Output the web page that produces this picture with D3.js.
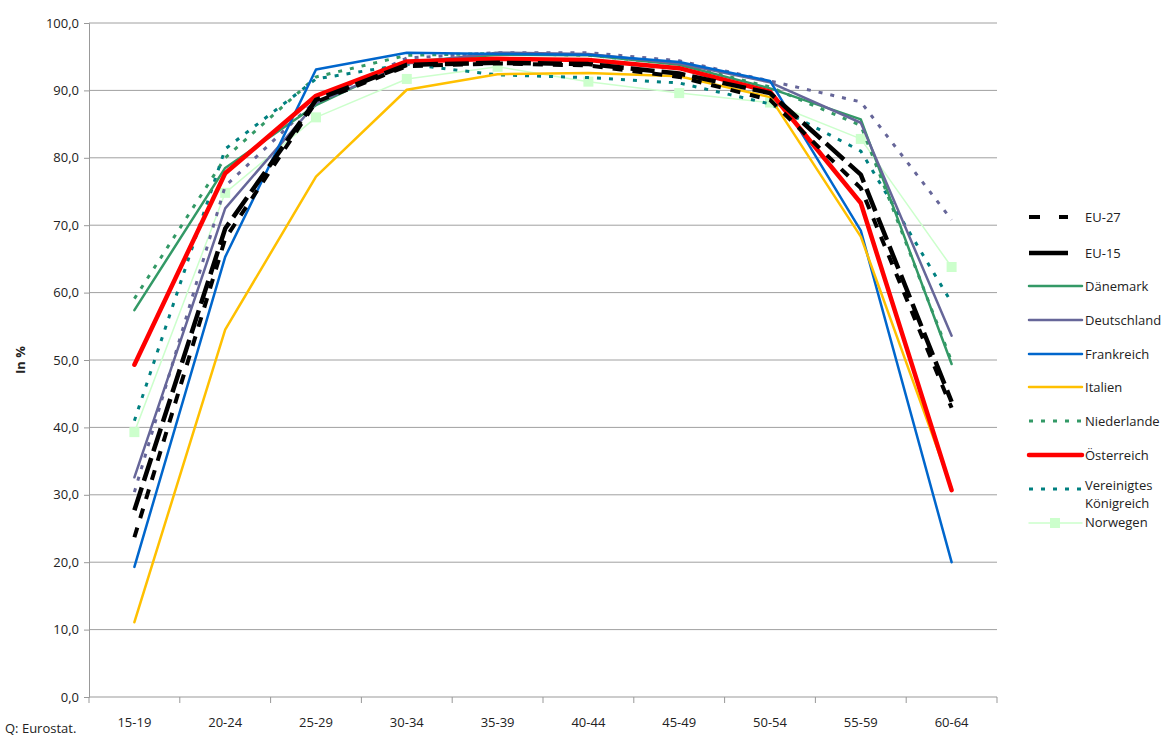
<!DOCTYPE html>
<html>
<head>
<meta charset="utf-8">
<script src="https://cdn.jsdelivr.net/npm/d3@7"></script>
<style>
  body { margin: 0; background: #fff; }
  text { font-family: "Open Sans", "Liberation Sans", sans-serif; }
</style>
</head>
<body>
<div id="chart"></div>
<script>
// age groups
const ageGroups = ["15-19", "20-24", "25-29", "30-34", "35-39", "40-44", "45-49", "50-54", "55-59", "60-64"];
const yTicks = [0, 10, 20, 30, 40, 50, 60, 70, 80, 90, 100];

// values (in %)
const eu27        = [23.7, 68.0, 88.3, 93.6, 94.0, 93.7, 92.0, 88.6, 75.5, 42.9];
const eu15        = [27.7, 69.5, 88.6, 93.8, 94.1, 93.9, 92.5, 89.6, 77.5, 43.8];
const daenemark   = [57.4, 78.5, 87.8, 94.2, 95.3, 95.2, 93.8, 90.3, 85.7, 49.4];
const deutschland = [32.6, 72.5, 88.1, 94.0, 95.6, 95.4, 94.0, 91.2, 85.2, 53.6];
const frankreich  = [19.3, 65.3, 93.1, 95.6, 95.4, 95.3, 94.2, 91.4, 69.2, 20.0];
const italien     = [11.1, 54.5, 77.2, 90.1, 92.4, 92.6, 92.1, 89.0, 68.3, 31.0];
const niederlande = [59.1, 80.0, 92.0, 95.2, 95.5, 95.2, 93.9, 90.5, 84.8, 49.8];
const oesterreich = [49.3, 77.7, 89.2, 94.3, 94.7, 94.5, 93.3, 89.8, 73.3, 30.7];
const vkoenig     = [41.0, 81.3, 91.7, 93.9, 92.3, 91.9, 91.1, 88.0, 81.0, 58.5];
const norwegen    = [39.3, 74.8, 86.0, 91.7, 93.5, 91.3, 89.6, 88.2, 82.8, 63.8];
const dottedViolet = [30.4, 75.8, 88.5, 94.8, 95.6, 95.6, 94.4, 91.4, 88.3, 70.8];

const seriesNames = ["EU-27", "EU-15", "Dänemark", "Deutschland", "Frankreich", "Italien",
  "Niederlande", "Österreich", "Vereinigtes Königreich", "Norwegen", ""];
const seriesValues = [eu27, eu15, daenemark, deutschland, frankreich, italien,
  niederlande, oesterreich, vkoenig, norwegen, dottedViolet];
const seriesColors = ["#000000", "#000000", "#339966", "#666699", "#0066cc", "#ffc000",
  "#339966", "#ff0000", "#008080", "#ccffcc", "#666699"];
const seriesWidths = [4, 4.5, 2.5, 2.5, 2.5, 2.5, 3, 4.5, 3, 1.5, 3];
const seriesDash = ["10,10", "24,7", null, null, null, null, "4,8", null, "4,8", null, "4,8"];

const width = 1173;
const height = 736;
const margin = {top: 23, right: 176, bottom: 39, left: 89};

const svg = d3.select("#chart").append("svg")
  .attr("width", width)
  .attr("height", height);

const xScale = d3.scaleBand()
  .domain(ageGroups)
  .range([margin.left, width - margin.right]);

const yScale = d3.scaleLinear()
  .domain([0, 100])
  .range([height - margin.bottom, margin.top]);

// grid lines
svg.append("g")
  .selectAll("line")
  .data(yTicks.slice(1))
  .join("line")
    .attr("x1", margin.left)
    .attr("x2", width - margin.right)
    .attr("y1", d => yScale(d))
    .attr("y2", d => yScale(d))
    .attr("stroke", "#a0a0a0")
    .attr("stroke-width", 1);

// axes
const fmt = d => d.toFixed(1).replace(".", ",");

const yAxis = svg.append("g")
  .attr("transform", `translate(${margin.left},0)`)
  .call(d3.axisLeft(yScale).tickValues(yTicks).tickFormat(fmt).tickSize(5).tickPadding(5));
yAxis.select(".domain").attr("stroke", "#999");
yAxis.selectAll(".tick line").attr("stroke", "#999");
yAxis.selectAll("text").attr("font-size", 13).attr("fill", "#222")
  .attr("font-family", "'Open Sans', sans-serif");

const xAxis = svg.append("g")
  .attr("transform", `translate(0,${height - margin.bottom})`);
xAxis.append("line")
  .attr("x1", margin.left).attr("x2", width - margin.right)
  .attr("stroke", "#999");
xAxis.selectAll(".sep")
  .data(ageGroups.concat([null]))
  .join("line")
    .attr("class", "sep")
    .attr("x1", (d, i) => margin.left + i * xScale.bandwidth())
    .attr("x2", (d, i) => margin.left + i * xScale.bandwidth())
    .attr("y1", 0).attr("y2", 6)
    .attr("stroke", "#999");
xAxis.selectAll(".lbl")
  .data(ageGroups)
  .join("text")
    .attr("class", "lbl")
    .attr("x", d => xScale(d) + xScale.bandwidth() / 2)
    .attr("y", 30)
    .attr("text-anchor", "middle")
    .attr("font-size", 13)
    .attr("fill", "#222")
    .text(d => d);

svg.append("text")
  .attr("x", 5).attr("y", 733)
  .attr("font-size", 13).attr("fill", "#222")
  .text("Q: Eurostat.");

svg.append("text")
  .attr("transform", `translate(25,360) rotate(-90)`)
  .attr("text-anchor", "middle")
  .attr("font-size", 13).attr("font-weight", "bold").attr("fill", "#222")
  .text("In %");

// lines
const lineFunc = d3.line()
  .x((d, i) => xScale(ageGroups[i]) + xScale.bandwidth() / 2)
  .y(d => yScale(d));

// draw order: Norwegen underneath, black dashes on top like the picture
const drawOrder = [9, 10, 6, 8, 2, 3, 4, 5, 7, 1, 0];
drawOrder.forEach(k => {
  svg.append("path")
    .attr("d", lineFunc(seriesValues[k]))
    .attr("fill", "none")
    .attr("stroke", seriesColors[k])
    .attr("stroke-width", seriesWidths[k])
    .attr("stroke-dasharray", seriesDash[k])
    .attr("stroke-linejoin", "round")
    .attr("stroke-linecap", seriesDash[k] ? "butt" : "round");
  if (k === 9) {
    svg.append("g").selectAll("rect")
      .data(seriesValues[k])
      .join("rect")
        .attr("x", (d, i) => xScale(ageGroups[i]) + xScale.bandwidth() / 2 - 5)
        .attr("y", d => yScale(d) - 5)
        .attr("width", 10).attr("height", 10)
        .attr("fill", seriesColors[k]);
  }
});

// legend
const legendY = [217, 253, 286, 320, 354, 387, 421, 455, 489, 523];
const legend = svg.append("g");
seriesNames.slice(0, 10).forEach((name, k) => {
  const y = legendY[k];
  const x2 = k < 2 ? 1068 : 1082;
  legend.append("line")
    .attr("x1", 1029).attr("x2", x2)
    .attr("y1", y).attr("y2", y)
    .attr("stroke", seriesColors[k])
    .attr("stroke-width", seriesWidths[k])
    .attr("stroke-dasharray", k === 0 ? "11,19" : (k === 1 ? null : seriesDash[k]))
    .attr("stroke-linecap", seriesDash[k] || k < 2 ? "butt" : "round");
  if (k === 9) {
    legend.append("rect")
      .attr("x", 1050).attr("y", y - 5).attr("width", 10).attr("height", 10)
      .attr("fill", seriesColors[k]);
  }
  const t = legend.append("text")
    .attr("x", 1085).attr("y", y + 5)
    .attr("font-size", 13).attr("fill", "#222");
  if (k === 8) {
    t.attr("y", y + 1).text("Vereinigtes");
    legend.append("text").attr("x", 1085).attr("y", y + 19)
      .attr("font-size", 13).attr("fill", "#222").text("Königreich");
  } else if (k === 9) {
    t.attr("y", y + 4).text(name);
  } else {
    t.text(name);
  }
});
</script>
</body>
</html>
